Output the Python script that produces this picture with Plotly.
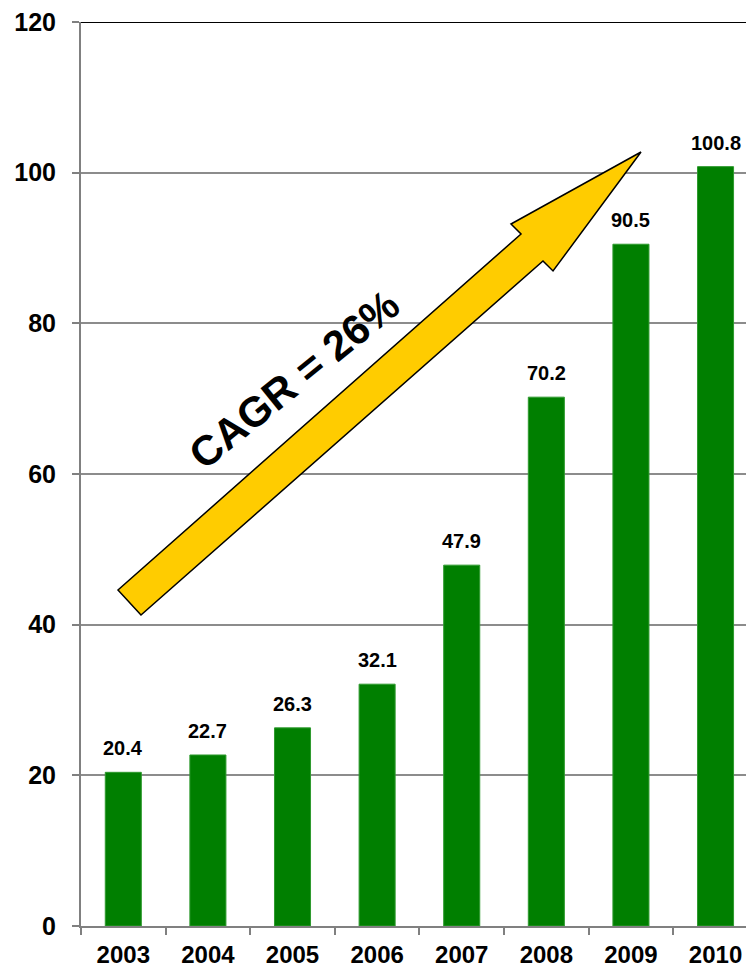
import plotly.graph_objects as go

# Annual values
years = ["2003", "2004", "2005", "2006", "2007", "2008", "2009", "2010"]
values = [20.4, 22.7, 26.3, 32.1, 47.9, 70.2, 90.5, 100.8]
y_ticks = [0, 20, 40, 60, 80, 100, 120]

FONT = "Liberation Sans, Arial, sans-serif"
W, H = 746, 967
ML, MR, MT, MB = 81, 0, 22, 41
PW, PH = W - ML - MR, H - MT - MB


def px(x, y):
    """Pixel position inside the figure -> paper coordinates."""
    return (x - ML) / PW, (H - MB - y) / PH


fig = go.Figure()
fig.add_trace(go.Bar(
    x=years, y=values,
    marker=dict(color="#007F00", line=dict(color="#2E9A2E", width=1)),
    hoverinfo="x+y",
))

# value labels above bars (category index positions)
for i, v in enumerate(values):
    fig.add_annotation(
        x=i, y=v, xref="x", yref="y", text=f"{v}",
        showarrow=False, yanchor="bottom", yshift=11,
        font=dict(family=FONT, size=20, color="black", weight="bold"),
    )

# growth arrow outline (paper coordinates)
arrow_px = [(118, 590), (141, 615), (543, 261), (553, 271), (641, 152),
            (511, 224), (521, 234)]
pts = [px(x, y) for x, y in arrow_px]
path = "M " + " L ".join(f"{a:.4f},{b:.4f}" for a, b in pts) + " Z"
fig.add_shape(type="path", path=path, xref="paper", yref="paper",
              fillcolor="#FFCC00", line=dict(color="black", width=1.5),
              layer="above")

tx, ty = px(294, 379)
fig.add_annotation(
    x=tx, y=ty, xref="paper", yref="paper", text="CAGR = 26%",
    xanchor="center", yanchor="middle",
    showarrow=False, textangle=-39,
    font=dict(family=FONT, size=42, color="black", weight="bold"),
)

# top border line
fig.add_shape(type="line", xref="paper", yref="y", x0=0, x1=1, y0=120, y1=120,
              line=dict(color="black", width=2), layer="above")

fig.update_layout(
    width=W, height=H,
    margin=dict(l=ML, r=MR, t=MT, b=MB),
    plot_bgcolor="white", paper_bgcolor="white",
    bargap=0.574, showlegend=False,
    font=dict(family=FONT, color="black"),
)
fig.update_xaxes(
    type="category", range=[-0.5, 7.36],
    showline=True, linecolor="#808080", linewidth=2,
    ticks="outside", ticklen=7, tickcolor="#808080", tickwidth=2,
    tickson="boundaries", showgrid=False,
    tickfont=dict(family=FONT, size=24, color="black", weight="bold"),
    ticklabelstandoff=6,
)
fig.update_yaxes(
    range=[0, 120], tickvals=y_ticks,
    showline=True, linecolor="#808080", linewidth=2,
    ticks="outside", ticklen=7, tickcolor="#808080", tickwidth=2,
    showgrid=True, gridcolor="#8C8C8C", gridwidth=1.5,
    zeroline=False,
    tickfont=dict(family=FONT, size=25, color="black", weight="bold"),
    ticklabelstandoff=11,
)

fig.write_html("out.html")
